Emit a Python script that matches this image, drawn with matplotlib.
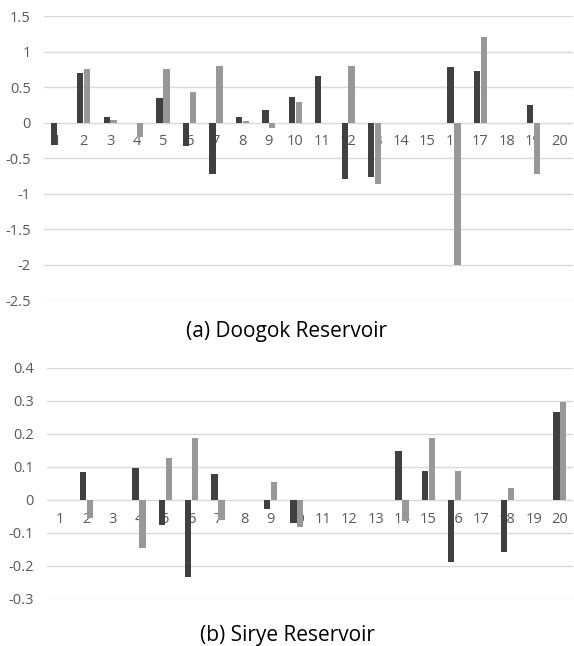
import numpy as np
import matplotlib
matplotlib.use("Agg")
import matplotlib.pyplot as plt

plt.rcParams['font.family'] = ['Open Sans', 'DejaVu Sans']

# categories 1..20
cats = list(range(1, 21))

# (a) Doogok Reservoir
doogok_dark = [-0.31, 0.70, 0.08, 0.0, 0.34, -0.33, -0.73, 0.08, 0.17, 0.36,
               0.65, -0.79, -0.77, 0.0, 0.0, 0.78, 0.73, 0.0, 0.25, 0.0]
doogok_light = [0.0, 0.76, 0.03, -0.21, 0.75, 0.43, 0.80, 0.02, -0.08, 0.29,
                0.0, 0.80, -0.86, 0.0, 0.0, -2.01, 1.21, 0.0, -0.73, 0.0]
doogok_ticks = [1.5, 1, 0.5, 0, -0.5, -1, -1.5, -2, -2.5]

# (b) Sirye Reservoir
sirye_dark = [0.0, 0.084, 0.0, 0.096, -0.076, -0.232, 0.077, 0.0, -0.029, -0.07,
              0.0, 0.0, 0.0, 0.147, 0.088, -0.187, 0.0, -0.157, 0.0, 0.265]
sirye_light = [0.0, -0.054, 0.0, -0.145, 0.126, 0.187, -0.06, 0.0, 0.055, -0.082,
               0.0, 0.0, 0.0, -0.064, 0.187, 0.088, 0.0, 0.035, 0.0, 0.296]
sirye_ticks = [0.4, 0.3, 0.2, 0.1, 0, -0.1, -0.2, -0.3]

dark = '#404040'
light = '#989898'
grid_c = '#d9d9d9'
txt_c = '#595959'


def draw(ax, d1, d2, ticks, title, title_y, fig):
    x = np.arange(len(cats))
    w = 0.24
    ax.bar(x - w / 2 - 0.01, d1, w, color=dark, zorder=3)
    ax.bar(x + w / 2 + 0.01, d2, w, color=light, zorder=3)
    ax.set_xlim(-0.5, len(cats) - 0.5)
    ax.set_ylim(min(ticks), max(ticks))
    ax.set_yticks(ticks)
    ax.set_yticklabels([f'{t:g}' for t in ticks], color=txt_c, fontsize=10.5)
    ax.tick_params(axis='y', length=0, pad=9.5)
    ax.set_xticks([])
    for t in ticks:
        ax.axhline(t, color=grid_c, lw=1, zorder=1)
    for s in ax.spines.values():
        s.set_visible(False)
    for i, c in enumerate(cats):
        ax.annotate(str(c), (i, 0), xytext=(0, -14), textcoords='offset points',
                    ha='center', va='center', color=txt_c, fontsize=10.5, zorder=2)
    fig.text(0.5, title_y, title, ha='center', va='center', fontsize=15, color='black')


fig = plt.figure(figsize=(5.74, 6.46), dpi=100)
ax1 = fig.add_axes([0.0767, 0.5356, 0.9216, 0.4396])
ax2 = fig.add_axes([0.0819, 0.0728, 0.9164, 0.358])
draw(ax1, doogok_dark, doogok_light, doogok_ticks, '(a) Doogok Reservoir', 1 - 331 / 646, fig)
draw(ax2, sirye_dark, sirye_light, sirye_ticks, '(b) Sirye Reservoir', 1 - 635 / 646, fig)

fig.savefig('out.png', dpi=100)
